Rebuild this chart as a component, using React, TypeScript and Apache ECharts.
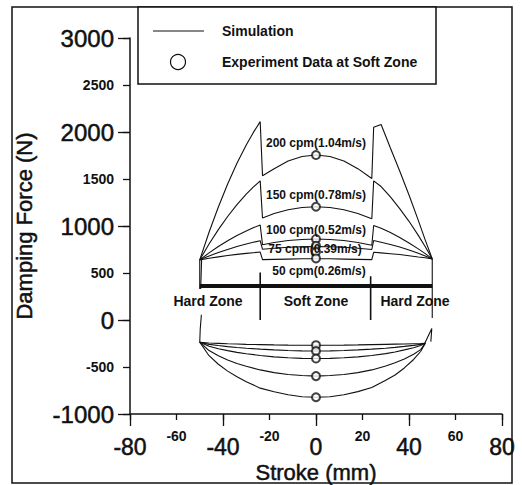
import React, { useEffect, useRef } from "react";
import * as echarts from "echarts";

// Stroke positions (mm) used for the positive (rebound) simulation curves
const strokeUpper = [-50, -46, -42, -38, -34, -30, -27, -24, -23, -18, -12, -6, 0, 6, 12, 18, 24, 24.8, 28, 32, 36, 40, 44, 47, 50];
const upper200 = [640, 933, 1202, 1447, 1667, 1862, 1993, 2110, 1535, 1610, 1691, 1739, 1755, 1739, 1691, 1610, 1505, 2050, 2080, 1830, 1585, 1330, 1060, 850, 650];
const upper150 = [640, 808, 961, 1101, 1227, 1339, 1413, 1480, 1085, 1132, 1172, 1197, 1205, 1197, 1172, 1132, 1078, 1480, 1420, 1310, 1185, 1050, 900, 779, 650];
const upper100 = [640, 714, 782, 843, 898, 948, 981, 1010, 800, 825, 845, 857, 862, 857, 845, 825, 795, 1005, 975, 930, 878, 820, 757, 706, 650];
const upper75 = [640, 681, 718, 751, 782, 809, 827, 843, 752, 764, 774, 780, 782, 780, 774, 764, 750, 845, 828, 804, 776, 745, 709, 681, 650];
const upper50 = [640, 657, 672, 686, 698, 709, 716, 723, 642, 645, 648, 651, 652, 651, 648, 645, 642, 720, 714, 705, 696, 684, 671, 662, 650];

// Stroke positions (mm) used for the negative (compression) simulation curves
const strokeLower = [-50, -46, -42, -38, -34, -30, -24, -18, -12, -6, 0, 6, 12, 18, 24, 30, 34, 38, 42, 45, 47];
const lower200 = [-237, -380, -471, -544, -604, -656, -725, -764, -796, -816, -822, -816, -796, -762, -718, -640, -585, -510, -420, -335, -248];
const lower150 = [-237, -325, -380, -425, -462, -493, -531, -560, -579, -591, -597, -591, -579, -560, -531, -490, -455, -415, -365, -315, -248];
const lower100 = [-237, -279, -305, -326, -344, -359, -377, -392, -402, -408, -410, -408, -402, -392, -377, -358, -340, -318, -295, -272, -248];
const lower75 = [-237, -259, -272, -283, -292, -300, -310, -318, -324, -328, -330, -328, -324, -318, -310, -300, -291, -281, -270, -259, -248];
const lower50 = [-237, -245, -249, -253, -256, -259, -262, -265, -267, -268, -268, -268, -267, -265, -262, -259, -257, -255, -252, -250, -248];

// End-of-stroke transitions
const leftUpperEndA = [[-50, 640], [-50, 330]];
const leftUpperEndB = [[-49.2, 640], [-49.6, 330]];
const leftLowerEnd = [[-49.3, 55], [-49.8, -100], [-50, -237]];
const rightUpperEnd = [[50, 650], [50, 20]];
const rightLowerSpike = [[46.8, -248], [49.8, -90], [49.4, -230]];

// Zone markers
const zoneBar = [[-50, 362], [50, 362]];
const zoneDividerLeft = [[-24, 505], [-24, 0]];
const zoneDividerRight = [[23.5, 465], [23.5, 0]];

// Experiment data at soft zone (stroke 0)
const expStroke = 0;
const expUpper = [1755, 1205, 862, 790, 725, 655];
const expLower = [-268, -330, -410, -597, -822];

const speedLabels = ["200 cpm(1.04m/s)", "150 cpm(0.78m/s)", "100 cpm(0.52m/s)", "75 cpm(0.39m/s)", "50 cpm(0.26m/s)"];
const zoneLabels = ["Hard Zone", "Soft Zone", "Hard Zone"];
const xBigTicks = [-80, -40, 0, 40, 80];
const yBigTicks = [-1000, 0, 1000, 2000, 3000];

const FONT = "'Liberation Sans', Arial, sans-serif";
const INK = "#111";

const pair = (xs: number[], ys: number[]) => xs.map((x, i) => [x, ys[i]]);

export default function App() {
  const ref = useRef<HTMLDivElement>(null);
  useEffect(() => {
    if (!ref.current) return;
    const chart = echarts.init(ref.current, undefined, { renderer: "svg" });
    const lineSeries = (data: number[][], width = 1.1) => ({
      type: "line",
      data,
      symbol: "none",
      silent: true,
      lineStyle: { color: INK, width },
      itemStyle: { color: INK },
      z: 2,
    });
    const curves = [
      pair(strokeUpper, upper200),
      pair(strokeUpper, upper150),
      pair(strokeUpper, upper100),
      pair(strokeUpper, upper75),
      pair(strokeUpper, upper50),
      pair(strokeLower, lower200),
      pair(strokeLower, lower150),
      pair(strokeLower, lower100),
      pair(strokeLower, lower75),
      pair(strokeLower, lower50),
      leftUpperEndA,
      leftUpperEndB,
      leftLowerEnd,
      rightUpperEnd,
      rightLowerSpike,
    ];
    const series: any[] = curves.map((d) => lineSeries(d));
    series.push(lineSeries(zoneDividerLeft, 1.6));
    series.push(lineSeries(zoneDividerRight, 1.6));
    series.push(lineSeries(zoneBar, 4));
    series.push({
      type: "scatter",
      data: [...expUpper, ...expLower].map((v) => [expStroke, v]),
      symbol: "emptyCircle",
      symbolSize: 8,
      silent: true,
      itemStyle: { color: INK, borderColor: INK, borderWidth: 1.1 },
      z: 3,
    });

    const labelY = [143, 195, 230, 249, 271];
    const labelX = [316, 316, 316, 315, 319];
    const textStyle = (text: string, size: number, weight = "bold") => ({
      text,
      fill: INK,
      font: `${weight} ${size}px ${FONT}`,
      align: "center",
      verticalAlign: "middle",
    });
    const heavy = { stroke: INK, lineWidth: 0.5 };

    const graphic: any[] = [
      {
        type: "rect",
        shape: { x: 12, y: 7, width: 500, height: 476 },
        style: { fill: "none", stroke: INK, lineWidth: 1.5 },
        silent: true,
        z: 10,
      },
      {
        type: "rect",
        shape: { x: 138, y: 7, width: 298, height: 77 },
        style: { fill: "#fff", stroke: INK, lineWidth: 1.5 },
        silent: true,
        z: 10,
      },
      {
        type: "line",
        shape: { x1: 153, y1: 31, x2: 204, y2: 31 },
        style: { stroke: INK, lineWidth: 1.2 },
        z: 11,
      },
      {
        type: "circle",
        shape: { cx: 178, cy: 62, r: 7.5 },
        style: { fill: "#fff", stroke: INK, lineWidth: 1.2 },
        z: 11,
      },
      {
        type: "text",
        x: 222,
        y: 31,
        style: { ...textStyle("Simulation", 14), align: "left" },
        z: 11,
      },
      {
        type: "text",
        x: 222,
        y: 62,
        style: { ...textStyle("Experiment Data at Soft Zone", 14), align: "left" },
        z: 11,
      },
      {
        type: "text",
        x: 24,
        y: 226,
        rotation: Math.PI / 2,
        style: { ...textStyle("Damping Force (N)", 22, "normal"), ...heavy },
        z: 11,
      },
      {
        type: "text",
        x: 316,
        y: 472,
        style: { ...textStyle("Stroke (mm)", 22, "normal"), ...heavy },
        z: 11,
      },
    ];
    speedLabels.forEach((t, i) => {
      graphic.push({ type: "text", x: labelX[i], y: labelY[i], style: textStyle(t, 12), z: 11 });
    });
    const zoneX = [208, 316, 415];
    zoneLabels.forEach((t, i) => {
      graphic.push({ type: "text", x: zoneX[i], y: 301, style: textStyle(t, 14), z: 11 });
    });

    const baseAxis = {
      type: "value",
      splitLine: { show: false },
    };

    chart.setOption({
      animation: false,
      backgroundColor: "#fff",
      grid: { left: 130, right: 20, top: 38, bottom: 71, containLabel: false },
      xAxis: [
        {
          ...baseAxis,
          position: "bottom",
          min: -80,
          max: 80,
          interval: 40,
          axisLine: { show: true, onZero: false, lineStyle: { color: INK, width: 1.5 } },
          axisTick: { show: true, inside: false, length: 12, lineStyle: { color: INK, width: 1.3 } },
          axisLabel: {
            margin: 21,
            color: INK,
            fontSize: 23,
            fontFamily: FONT,
            textBorderColor: INK,
            textBorderWidth: 0.5,
            formatter: (v: number) => (xBigTicks.includes(v) ? String(v) : ""),
          },
        },
        {
          ...baseAxis,
          position: "bottom",
          min: -80,
          max: 80,
          interval: 20,
          axisLine: { show: false, onZero: false },
          axisTick: { show: true, inside: false, length: 6, lineStyle: { color: INK, width: 1.3 } },
          axisLabel: {
            margin: 15,
            color: INK,
            fontSize: 14,
            fontWeight: "bold",
            fontFamily: FONT,
            formatter: (v: number) => (xBigTicks.includes(v) ? "" : String(v)),
          },
        },
      ],
      yAxis: [
        {
          ...baseAxis,
          position: "left",
          min: -1000,
          max: 3000,
          interval: 1000,
          axisLine: { show: true, onZero: false, lineStyle: { color: INK, width: 1.5 } },
          axisTick: { show: true, inside: false, length: 12, lineStyle: { color: INK, width: 1.3 } },
          axisLabel: {
            margin: 16,
            color: INK,
            fontSize: 24,
            fontFamily: FONT,
            textBorderColor: INK,
            textBorderWidth: 0.5,
            formatter: (v: number) => (yBigTicks.includes(v) ? String(v) : ""),
          },
        },
        {
          ...baseAxis,
          position: "left",
          min: -1000,
          max: 3000,
          interval: 500,
          axisLine: { show: false, onZero: false },
          axisTick: { show: true, inside: false, length: 7, lineStyle: { color: INK, width: 1.3 } },
          axisLabel: {
            margin: 16,
            color: INK,
            fontSize: 14,
            fontWeight: "bold",
            fontFamily: FONT,
            formatter: (v: number) => (yBigTicks.includes(v) ? "" : String(v)),
          },
        },
      ],
      series,
      graphic,
    });
    return () => chart.dispose();
  }, []);
  return (
    <div
      ref={ref}
      style={{ position: "absolute", left: 0, top: 0, width: 522, height: 485, background: "#fff" }}
    />
  );
}
